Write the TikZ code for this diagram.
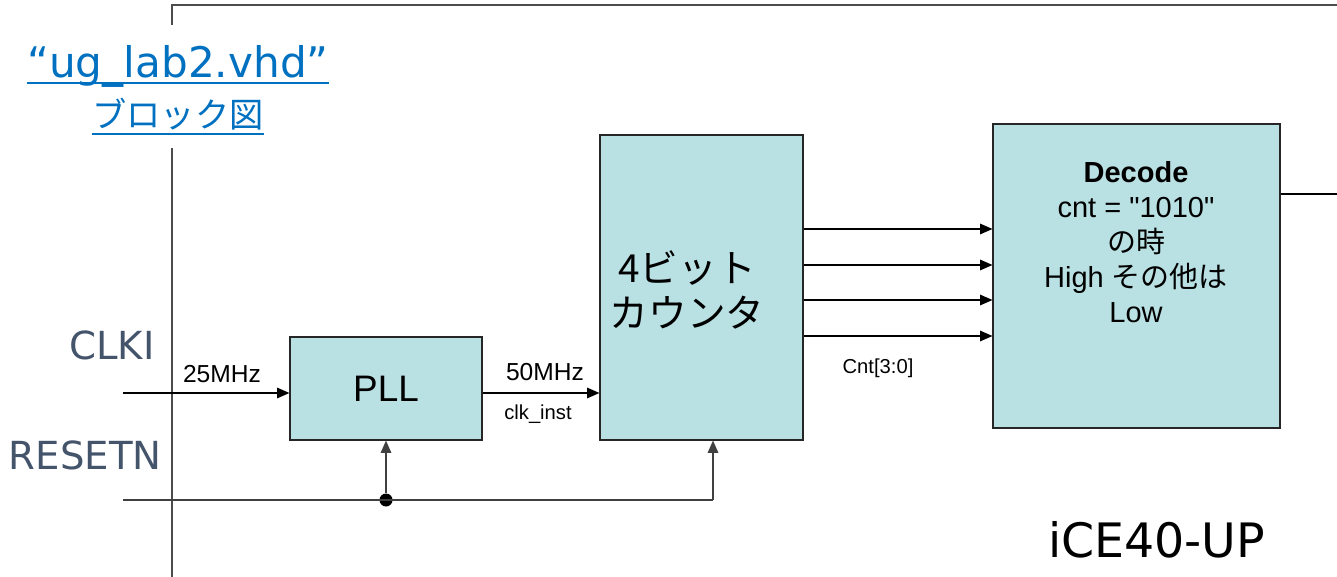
\documentclass[tikz,border=0pt]{standalone}
\usepackage{fontspec}
\setmainfont{Liberation Sans}
\newfontfamily\plainsans{Liberation Sans}
\newfontfamily\jpfont{Noto Sans CJK JP}
\newfontfamily\pinfont{DejaVu Sans}
\usetikzlibrary{arrows.meta,positioning}
\definecolor{boxteal}{RGB}{185,224,227}
\definecolor{pinslate}{RGB}{68,84,106}
\definecolor{linkblue}{RGB}{0,112,192}

\begin{document}
\begin{tikzpicture}[x=0.02cm, y=-0.02cm,
    blk/.style={draw=black!85, fill=boxteal, line width=0.7pt, inner sep=0pt},
    arr/.style={-{Triangle[length=7pt,width=6pt]}, line width=0.7pt},
    wire/.style={line width=0.7pt},
    rstarr/.style={arr, black!75},
    pin/.style={font=\pinfont\fontsize{22}{26}\selectfont, text=pinslate, inner sep=0pt},
    freq/.style={font=\fontsize{14}{16}\selectfont, inner sep=0pt},
    net/.style={font=\fontsize{11.5}{13}\selectfont, inner sep=0pt},
    link/.style={text=linkblue, inner sep=0pt, align=center},
    uline/.style={draw=linkblue, line width=1.1pt},
    dot/.style={circle, fill=black, inner sep=0pt, minimum size=0.26cm}
]
\useasboundingbox (0,0) rectangle (1337,577);

% chip outline
\draw[black!70, line width=0.8pt] (172,25) -- (172,5) -- (1337,5);
\draw[black!70, line width=0.8pt] (172,148) -- (172,577);

\node[link, font=\pinfont\fontsize{24}{28}\selectfont, anchor=base] (title) at (178,78) {“ug\_lab2.vhd”};
\node[link, font=\jpfont\fontsize{19.5}{22}\selectfont, anchor=base] (title-jp) at (178,128) {ブロック図};
\draw[uline] ([yshift=-3pt]title.base west) -- ([yshift=-3pt]title.base east);
\draw[uline] ([yshift=-3.5pt]title-jp.base west) -- ([yshift=-3.5pt]title-jp.base east);

\node[pin, anchor=base east] (clki) at (155,359) {CLKI};
\node[pin, anchor=base east] (resetn) at (162,469) {RESETN};

\node[blk, minimum width=3.84cm, minimum height=2.06cm, font=\fontsize{21}{24}\selectfont] (pll) at (386,388.5) {PLL};
\node[blk, minimum width=4.06cm, minimum height=6.1cm] (cnt) at (701.5,287.5) {};
\node[font=\jpfont\fontsize{22}{25.5}\selectfont, align=center] (cnt-txt) at (687,290) {4ビット\\カウンタ};
\node[blk, minimum width=5.74cm, minimum height=6.08cm] (dec) at (1136.5,276) {};
\node[font=\fontsize{16.5}{20}\selectfont, align=center] (dec-txt) at (1136,242)
    {\textbf{Decode}\\{\plainsans cnt = "1010"}\\{\jpfont の時}\\High {\jpfont その他は}\\Low};

% clock path
\coordinate (clk-in) at (123,393);
\draw[arr] (clk-in) -- (clk-in -| pll.west);
\node[freq] (f25) at (222,374) {25MHz};
\draw[arr] (pll.east |- clk-in) -- (cnt.west |- clk-in);
\node[freq] (f50) at (545,372) {50MHz};
\node[net] (clk-inst) at (538,414) {clk\_inst};

% counter bus
\foreach \y in {229,265,300,336}
    \draw[arr] (cnt.east |- 0,\y) -- (dec.west |- 0,\y);
\node[net] (cnt-bus) at (878,368) {Cnt[3:0]};
\coordinate (dec-out) at (1337,194);
\draw[wire] (dec.east |- dec-out) -- (dec-out);

% reset
\coordinate (rst-in) at (123,500);
\coordinate (rst-cnt) at (713,500);
\node[dot] (rst-dot) at (386,500) {};
\draw[wire, black!75] (rst-in) -- (rst-cnt);
\draw[rstarr] (rst-dot) -- (pll.south);
\draw[rstarr] (rst-cnt) -- (rst-cnt |- cnt.south);

\node[font=\pinfont\fontsize{27}{30}\selectfont, anchor=base west] (chip) at (1042,557) {iCE40-UP};
\end{tikzpicture}
\end{document}
